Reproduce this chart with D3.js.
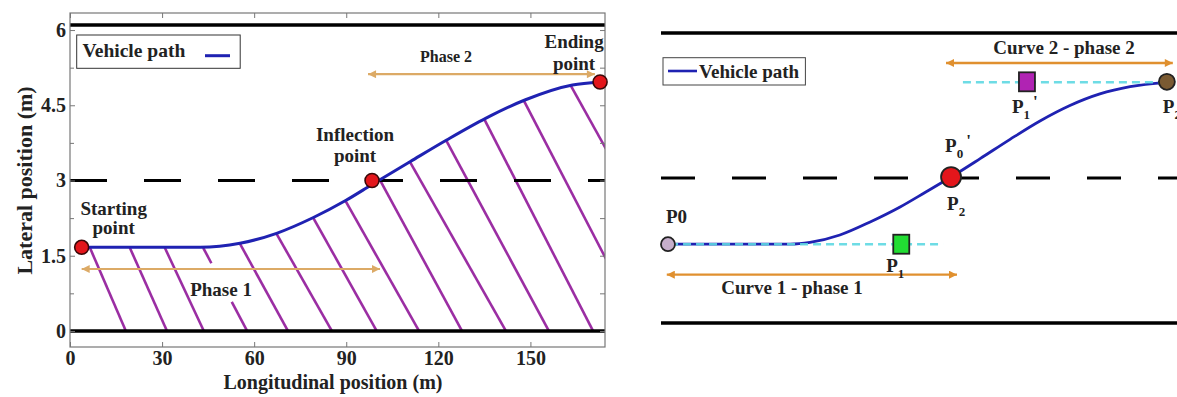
<!DOCTYPE html>
<html><head><meta charset="utf-8">
<script src="https://cdn.jsdelivr.net/npm/d3@7"></script>
<style>
body{margin:0;background:#fff;}
svg{display:block;}
text{font-family:"Liberation Serif","Times New Roman",serif;font-weight:bold;fill:#222;}
</style>
</head><body>
<svg id="c" width="1177" height="397"></svg>
<script>
// ---------------- DATA ----------------
// Left chart: axes
const xTicks = [0, 30, 60, 90, 120, 150];
const xTickLabels = ["0", "30", "60", "90", "120", "150"];
const yTicks = [0, 1.5, 3, 4.5, 6];
const yTickLabels = ["0", "1.5", "3", "4.5", "6"];
const yMinorTicks = [0.75, 2.25, 3.75, 5.25];
const roadEdgesLeft = [0, 6.1];
const laneCenter = 3;
// Left chart: vehicle path (m)
const pathX = [3.8, 42.4, 55.4, 67.3, 79.3, 89.8, 98.4, 110.9, 122.7, 135.4, 148.2, 163.7, 172.7];
const pathY = [1.668, 1.668, 1.748, 1.947, 2.262, 2.60, 2.92, 3.379, 3.808, 4.240, 4.605, 4.904, 4.964];
// key points: starting, inflection, ending
const keyNames = ["Starting point", "Inflection point", "Ending point"];
const keyX = [3.8, 98.4, 172.7];
const keyY = [1.668, 3.0, 4.964];
// hatch lines: x where each line leaves the path, x where it reaches y = 0
const hatchTopX = [6.5, 19.5, 30.9, 43.4, 55.4, 67.3, 79.3, 89.8, 101, 110.8, 122.6, 135, 147.9, 163.2];
const hatchBottomX = [18.2, 31.6, 43.6, 57.7, 71.0, 85.3, 99.9, 113.7, 127.7, 142.0, 156.0, 170.4, 186.8, 207.6];
const hatchBreak = {index: 3, yFrom: 1.35, yTo: 0.58};
// phase arrows
const phaseLabels = ["Phase 1", "Phase 2"];
const phaseX1 = [3.8, 97.1];
const phaseX2 = [101, 171];
const phaseY = [1.235, 5.12];

// Right chart (schematic)
const roadEdgesRight = [0, 6];
const roadSpanRight = [1.35, 175.5];
const rPathX = [3.7, 44.9, 51.6, 61.7, 71.9, 82.0, 90.4, 99.2, 109.0, 119.1, 129.2, 139.3, 149.4, 159.6, 172.0];
const rPathY = [1.63, 1.63, 1.666, 1.82, 2.09, 2.40, 2.70, 3.02, 3.40, 3.80, 4.18, 4.50, 4.74, 4.89, 4.98];
const guideX1 = [4.4, 103.2];
const guideX2 = [96.5, 172.7];
const guideY = [1.63, 4.98];
const curveLabels = ["Curve 1 - phase 1", "Curve 2 - phase 2"];
const curveArrowX1 = [3.3, 97.5];
const curveArrowX2 = [101.2, 174];
const curveArrowY = [1.0, 5.38];
const ctrlCircleX = [3.7, 99.2, 172.0];
const ctrlCircleY = [1.63, 3.02, 4.99];
const ctrlSquareX = [82.4, 124.8];
const ctrlSquareY = [1.63, 4.99];

// ---------------- DRAW ----------------
const svg = d3.select("#c");
const defs = svg.append("defs");
function marker(id, color) {
  defs.append("marker").attr("id", id).attr("viewBox", "0 0 10 10")
    .attr("refX", 10).attr("refY", 5).attr("markerWidth", 10).attr("markerHeight", 8)
    .attr("markerUnits", "userSpaceOnUse").attr("orient", "auto-start-reverse")
    .append("path").attr("d", "M0,0L10,5L0,10z").attr("fill", color);
}
const arrowColL = "#dcaa66", arrowColR = "#e0902f";
marker("arrL", arrowColL);
marker("arrR", arrowColR);

// ===== LEFT =====
const x = d3.scaleLinear().domain([0, 174.3]).range([70, 605]);
const y = d3.scaleLinear().domain([-0.32, 6.34]).range([347, 13]);
defs.append("clipPath").attr("id", "plotClip").append("rect")
  .attr("x", x(0)).attr("y", y(6.34)).attr("width", x(174.3) - x(0)).attr("height", y(-0.32) - y(6.34));

const L = svg.append("g");
const pts = pathX.map((d, i) => [d, pathY[i]]);
const line = d3.line().x(d => x(d[0])).y(d => y(d[1])).curve(d3.curveMonotoneX);

// curve lookup (pixel) for hatch tops
const tmp = L.append("path").attr("d", line(pts)).attr("fill", "none");
const node = tmp.node(), len = node.getTotalLength();
const samples = d3.range(0, len, 0.5).map(l => node.getPointAtLength(l));
tmp.remove();
function curveYpx(px) {
  let best = samples[0];
  for (const s of samples) if (Math.abs(s.x - px) < Math.abs(best.x - px)) best = s;
  return best.y;
}

// hatch
const H = L.append("g").attr("clip-path", "url(#plotClip)");
hatchTopX.forEach((tx, i) => {
  const x1 = x(tx), y1 = curveYpx(x1) + 0.5;
  const x2 = x(hatchBottomX[i]), y2 = y(0);
  const segs = [];
  if (hatchBreak.index === i) {
    const f = py => x1 + (py - y1) / (y2 - y1) * (x2 - x1);
    const pa = y(hatchBreak.yFrom), pb = y(hatchBreak.yTo);
    segs.push([x1, y1, f(pa), pa], [f(pb), pb, x2, y2]);
  } else segs.push([x1, y1, x2, y2]);
  segs.forEach(s => H.append("line").attr("x1", s[0]).attr("y1", s[1]).attr("x2", s[2]).attr("y2", s[3])
    .attr("stroke", "#9b2ea3").attr("stroke-width", 2.6));
});

// road lines
L.selectAll(".road").data(roadEdgesLeft).join("line")
  .attr("x1", x(0)).attr("x2", x(174.3)).attr("y1", d => y(d)).attr("y2", d => y(d))
  .attr("stroke", "#000").attr("stroke-width", 3.5);
L.append("line").attr("x1", x(0)).attr("x2", x(174.3)).attr("y1", y(laneCenter)).attr("y2", y(laneCenter))
  .attr("stroke", "#000").attr("stroke-width", 3).attr("stroke-dasharray", "37,37");

// axes
function styleAxis(g, size) {
  g.attr("font-size", size).attr("font-family", '"Liberation Serif","Times New Roman",serif').attr("font-weight", "bold");
  g.select(".domain").remove();
  g.selectAll(".tick line").attr("stroke", "#777");
  g.selectAll(".tick text").attr("fill", "#222");
}
L.append("g").attr("transform", `translate(0,${y(-0.32)})`)
  .call(d3.axisBottom(x).tickValues(xTicks).tickFormat((d, i) => xTickLabels[i]).tickSizeInner(-5).tickSizeOuter(0).tickPadding(4))
  .call(g => styleAxis(g, 20));
L.append("g").attr("transform", `translate(0,${y(6.34)})`)
  .call(d3.axisTop(x).tickValues(xTicks).tickFormat(() => "").tickSizeInner(-5).tickSizeOuter(0))
  .call(g => styleAxis(g, 20));
L.append("g").attr("transform", `translate(${x(0)},0)`)
  .call(d3.axisLeft(y).tickValues(yTicks).tickFormat((d, i) => yTickLabels[i]).tickSizeInner(-5).tickSizeOuter(0).tickPadding(4))
  .call(g => styleAxis(g, 20));
L.append("g").attr("transform", `translate(${x(0)},0)`)
  .call(d3.axisLeft(y).tickValues(yMinorTicks).tickFormat(() => "").tickSizeInner(-4).tickSizeOuter(0))
  .call(g => styleAxis(g, 20));
L.append("g").attr("transform", `translate(${x(174.3)},0)`)
  .call(d3.axisRight(y).tickValues(yTicks.concat(yMinorTicks)).tickFormat(() => "").tickSizeInner(-5).tickSizeOuter(0))
  .call(g => styleAxis(g, 20));
L.append("rect").attr("x", x(0)).attr("y", y(6.34)).attr("width", x(174.3) - x(0)).attr("height", y(-0.32) - y(6.34))
  .attr("fill", "none").attr("stroke", "#777").attr("stroke-width", 1.2);

// axis titles
L.append("text").attr("x", 333).attr("y", 389).attr("text-anchor", "middle").attr("font-size", 20)
  .text("Longitudinal position (m)");
L.append("text").attr("transform", "translate(32,180.5) rotate(-90)").attr("text-anchor", "middle").attr("font-size", 22)
  .text("Lateral position (m)");

// phase arrows
phaseLabels.forEach((lab, i) => {
  L.append("line").attr("x1", x(phaseX1[i])).attr("x2", x(phaseX2[i])).attr("y1", y(phaseY[i])).attr("y2", y(phaseY[i]))
    .attr("stroke", arrowColL).attr("stroke-width", 2.2)
    .attr("marker-start", "url(#arrL)").attr("marker-end", "url(#arrL)");
});
L.append("text").attr("x", 221).attr("y", 296).attr("text-anchor", "middle").attr("font-size", 19).text(phaseLabels[0]);
L.append("text").attr("x", 446).attr("y", 62).attr("text-anchor", "middle").attr("font-size", 16).text(phaseLabels[1]);

// vehicle path
L.append("path").attr("d", line(pts)).attr("fill", "none").attr("stroke", "#1f22b2").attr("stroke-width", 3);

// key points
L.selectAll(".kp").data(keyX).join("circle")
  .attr("cx", d => x(d)).attr("cy", (d, i) => y(keyY[i])).attr("r", 7)
  .attr("fill", "#e3161b").attr("stroke", "#3a0808").attr("stroke-width", 1.6);

// key labels (two lines each), offsets from each point in px
const keyOffsets = [[32, -32, -13], [-17, -40, -19], [-26, -34, -12]];
keyNames.forEach((n, i) => {
  const [w1, w2] = n.split(" ");
  const px = x(keyX[i]), py = y(keyY[i]);
  const o = keyOffsets[i];
  L.append("text").attr("x", px + o[0]).attr("y", py + o[1]).attr("text-anchor", "middle").attr("font-size", 19).text(w1);
  L.append("text").attr("x", px + o[0]).attr("y", py + o[2]).attr("text-anchor", "middle").attr("font-size", 19).text(w2);
});

// legend
L.append("rect").attr("x", 76.7).attr("y", 35).attr("width", 163.5).attr("height", 33.3)
  .attr("fill", "#fff").attr("stroke", "#333").attr("stroke-width", 1);
L.append("text").attr("x", 82.5).attr("y", 56.5).attr("font-size", 19.5).text("Vehicle path");
L.append("line").attr("x1", 205).attr("x2", 230).attr("y1", 55.7).attr("y2", 55.7).attr("stroke", "#1f22b2").attr("stroke-width", 3);

// ===== RIGHT =====
const xr = d3.scaleLinear().domain([0, 174]).range([657, 1172.8]);
const yr = d3.scaleLinear().domain([0, 6]).range([323, 33]);
const R = svg.append("g");
R.selectAll(".road").data(roadEdgesRight).join("line")
  .attr("x1", xr(roadSpanRight[0])).attr("x2", xr(roadSpanRight[1])).attr("y1", d => yr(d)).attr("y2", d => yr(d))
  .attr("stroke", "#000").attr("stroke-width", 3.5);
R.append("line").attr("x1", xr(roadSpanRight[0])).attr("x2", xr(roadSpanRight[1]))
  .attr("y1", yr(laneCenter)).attr("y2", yr(laneCenter))
  .attr("stroke", "#000").attr("stroke-width", 3).attr("stroke-dasharray", "34,37");

// arrows
curveLabels.forEach((lab, i) => {
  R.append("line").attr("x1", xr(curveArrowX1[i])).attr("x2", xr(curveArrowX2[i]))
    .attr("y1", yr(curveArrowY[i])).attr("y2", yr(curveArrowY[i]))
    .attr("stroke", arrowColR).attr("stroke-width", 2.4)
    .attr("marker-start", "url(#arrR)").attr("marker-end", "url(#arrR)");
});
R.append("text").attr("x", 792).attr("y", 294).attr("text-anchor", "middle").attr("font-size", 19).text(curveLabels[0]);
R.append("text").attr("x", 1064).attr("y", 54).attr("text-anchor", "middle").attr("font-size", 19).text(curveLabels[1]);

// path
const rpts = rPathX.map((d, i) => [d, rPathY[i]]);
const rline = d3.line().x(d => xr(d[0])).y(d => yr(d[1])).curve(d3.curveMonotoneX);
R.append("path").attr("d", rline(rpts)).attr("fill", "none").attr("stroke", "#1f22b2").attr("stroke-width", 2.8);

// guide dashed lines (cyan)
guideY.forEach((g, i) => {
  R.append("line").attr("x1", xr(guideX1[i])).attr("x2", xr(guideX2[i])).attr("y1", yr(g)).attr("y2", yr(g))
    .attr("stroke", "#5fd9e3").attr("stroke-width", 2.6).attr("stroke-dasharray", "8,5").attr("opacity", 0.9);
});

// control points
const circFill = ["#c6aecb", "#e3161b", "#7a5a32"];
const circR = [7, 10, 8];
ctrlCircleX.forEach((cx, i) => {
  R.append("circle").attr("cx", xr(cx)).attr("cy", yr(ctrlCircleY[i])).attr("r", circR[i])
    .attr("fill", circFill[i]).attr("stroke", "#222").attr("stroke-width", 1.8);
});
const sqFill = ["#22dd33", "#b023b3"];
ctrlSquareX.forEach((sx, i) => {
  R.append("rect").attr("x", xr(sx) - 8).attr("y", yr(ctrlSquareY[i]) - 9.5).attr("width", 16).attr("height", 19)
    .attr("fill", sqFill[i]).attr("stroke", "#222").attr("stroke-width", 1.8);
});

// P labels
function pLabel(px, py, main, sub, prime) {
  const t = R.append("text").attr("x", px).attr("y", py).attr("font-size", 19);
  t.append("tspan").text(main);
  if (sub !== null) t.append("tspan").attr("font-size", 13).attr("dy", 6).text(sub);
  if (prime) t.append("tspan").attr("font-size", 17).attr("dy", -12).attr("dx", 3).text("'");
}
const c0 = [xr(ctrlCircleX[0]), yr(ctrlCircleY[0])];
const c2 = [xr(ctrlCircleX[1]), yr(ctrlCircleY[1])];
const c3 = [xr(ctrlCircleX[2]), yr(ctrlCircleY[2])];
const s1 = [xr(ctrlSquareX[0]), yr(ctrlSquareY[0])];
const s2 = [xr(ctrlSquareX[1]), yr(ctrlSquareY[1])];
pLabel(c0[0] - 2, c0[1] - 21, "P0", null, false);
pLabel(c2[0] - 6, c2[1] - 25, "P", "0", true);
pLabel(c2[0] - 4, c2[1] + 33, "P", "2", false);
pLabel(s1[0] - 15, s1[1] + 28, "P", "1", false);
pLabel(s2[0] - 15, s2[1] + 31, "P", "1", true);
pLabel(c3[0] - 4, c3[1] + 31, "P", "2", false);

// legend
R.append("rect").attr("x", 663).attr("y", 57.7).attr("width", 142.4).attr("height", 27.3)
  .attr("fill", "#fff").attr("stroke", "#444").attr("stroke-width", 1);
R.append("line").attr("x1", 668).attr("x2", 697).attr("y1", 71).attr("y2", 71).attr("stroke", "#1f22b2").attr("stroke-width", 2.6);
R.append("text").attr("x", 699).attr("y", 78).attr("font-size", 19).text("Vehicle path");
</script>
</body></html>
